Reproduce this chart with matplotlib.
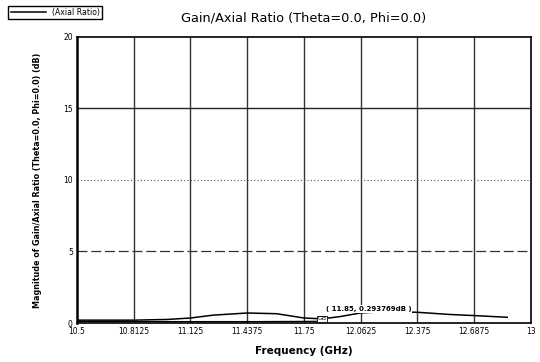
import matplotlib
matplotlib.use("Agg")
import matplotlib.pyplot as plt

# Axial ratio trace (GHz, dB)
freq = [10.5, 10.8125, 11.0, 11.125, 11.25, 11.4375, 11.6, 11.75, 11.85,
        11.95, 12.06, 12.2, 12.375, 12.55, 12.72, 12.87]
axial_ratio = [0.2, 0.2, 0.25, 0.35, 0.55, 0.7, 0.65, 0.35, 0.29,
               0.45, 0.7, 0.8, 0.75, 0.6, 0.5, 0.4]

# lower trace running along the bottom
freq_low = [10.5, 11.0, 11.5, 11.85]
gain_low = [0.1, 0.1, 0.1, 0.12]

xticks = [10.5, 10.8125, 11.125, 11.4375, 11.75, 12.0625, 12.375, 12.6875, 13]
xtick_labels = ["10.5", "10.8125", "11.125", "11.4375", "11.75", "12.0625", "12.375", "12.6875", "13"]
yticks = [0, 5, 10, 15, 20]

marker_f = 11.85
marker_v = 0.293769

fig = plt.figure(figsize=(5.4, 3.62), dpi=100)
ax = fig.add_axes([0.1426, 0.1077, 0.8404, 0.7903])

ax.set_xlim(10.5, 13)
ax.set_ylim(0, 20)

# grid: vertical solid, horizontal mixed styles like the original
for x in xticks[1:-1]:
    ax.axvline(x, color="#333333", lw=1.0, zorder=1)
ax.axhline(15, color="#222222", lw=1.0, ls="-", zorder=1)
ax.axhline(10, color="#555555", lw=0.8, ls=(0, (1, 2)), zorder=1)
ax.axhline(5, color="#333333", lw=0.9, ls=(0, (8, 3)), zorder=1)

ax.plot(freq_low, gain_low, color="black", lw=0.9, zorder=2)
line, = ax.plot(freq, axial_ratio, color="black", lw=1.1, zorder=3, label="(Axial Ratio)")

# marker box + annotation
ax.text(marker_f, marker_v, "Gd", fontsize=4.5, ha="center", va="center", zorder=5,
        bbox=dict(boxstyle="square,pad=0.1", fc="white", ec="black", lw=0.6))
ax.text(12.105, 1.0, "( 11.85, 0.293769dB )", fontsize=5, ha="center", va="center",
        fontweight="bold", zorder=4,
        bbox=dict(boxstyle="square,pad=0.15", fc="white", ec="none"))

ax.set_xticks(xticks)
ax.set_xticklabels(xtick_labels, fontsize=5.5)
ax.set_yticks(yticks)
ax.set_yticklabels([str(v) for v in yticks], fontsize=5.5)
ax.tick_params(length=0, pad=3)
for s in ax.spines.values():
    s.set_linewidth(1.2)
ax.spines["left"].set_linewidth(1.8)

ax.set_title("Gain/Axial Ratio (Theta=0.0, Phi=0.0)", fontsize=9.3, pad=11)
ax.set_xlabel("Frequency (GHz)", fontsize=7.5, fontweight="bold", labelpad=7)
ax.set_ylabel("Magnitude of Gain/Axial Ratio (Theta=0.0, Phi=0.0) (dB)", fontsize=5.8,
              fontweight="bold", labelpad=15)

fig.legend(handles=[line], loc="upper left", bbox_to_anchor=(0.008, 0.995), fontsize=5.6,
           frameon=True, fancybox=False, edgecolor="black", handlelength=4.5,
           borderpad=0.3, framealpha=1)

fig.savefig("out.png", dpi=100)
